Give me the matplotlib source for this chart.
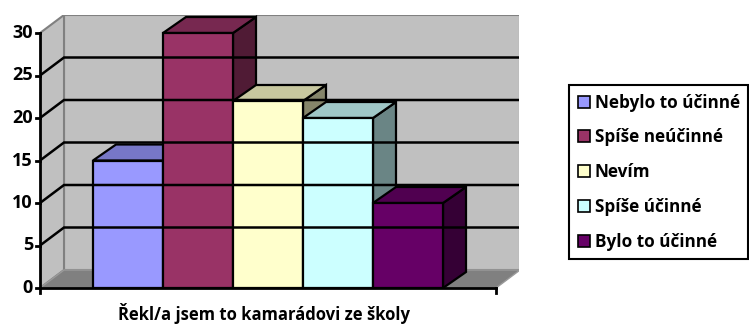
import matplotlib
matplotlib.use("Agg")
import matplotlib.pyplot as plt
from matplotlib.colors import to_rgb
from matplotlib.patches import Patch, Polygon

answers = ["Nebylo to účinné", "Spíše neúčinné", "Nevím", "Spíše účinné", "Bylo to účinné"]
counts = [15, 30, 22, 20, 10]
colors = ["#9999FF", "#993366", "#FFFFCC", "#CCFFFF", "#660066"]
y_ticks = [0, 5, 10, 15, 20, 25, 30]
x_label = "Řekl/a jsem to kamarádovi ze školy"

plt.rcParams["font.family"] = ["Open Sans", "DejaVu Sans"]
plt.rcParams["font.weight"] = "bold"

W, H = 749, 324
PX_X, PX_Y = 70.0, 8.5          # pixels per category / per unit of value
fig = plt.figure(figsize=(W / 100, H / 100), dpi=100)
ax = fig.add_axes([40 / W, (H - 288) / H, 479 / W, 273 / H])

margin = 53 / PX_X
wall_dx, wall_dy = 24 / PX_X, 18 / PX_Y
bar_dx, bar_dy = 23 / PX_X, 16 / PX_Y
x0, x1 = -margin, len(counts) + margin
ymax = y_ticks[-1]
ax.set_xlim(x0, x0 + 479 / PX_X)
ax.set_ylim(0, 273 / PX_Y)
ax.axis("off")


def shade(color, k):
    return tuple(c * k for c in to_rgb(color))


# walls and floor
ax.add_patch(Polygon([(x0 + wall_dx, wall_dy), (x1 + wall_dx, wall_dy),
                      (x1 + wall_dx, ymax + wall_dy), (x0 + wall_dx, ymax + wall_dy)],
                     fc="#C0C0C0", ec="#808080", lw=1.5))
ax.add_patch(Polygon([(x0, 0), (x0 + wall_dx, wall_dy), (x0 + wall_dx, ymax + wall_dy), (x0, ymax)],
                     fc="#C0C0C0", ec="#808080", lw=1.5))
ax.add_patch(Polygon([(x0, 0), (x1, 0), (x1 + wall_dx, wall_dy), (x0 + wall_dx, wall_dy)],
                     fc="#808080", ec="#9a9a9a", lw=1))

# gridlines on side and back wall
for t in y_ticks[1:-1]:
    ax.plot([x0, x0 + wall_dx, x1 + wall_dx], [t, t + wall_dy, t + wall_dy],
            color="black", lw=1.8, solid_joinstyle="miter")

# 3D columns
for i, (value, color) in enumerate(zip(counts, colors)):
    side = [(i + 1, 0), (i + 1 + bar_dx, bar_dy), (i + 1 + bar_dx, value + bar_dy), (i + 1, value)]
    top = [(i, value), (i + 1, value), (i + 1 + bar_dx, value + bar_dy), (i + bar_dx, value + bar_dy)]
    front = [(i, 0), (i + 1, 0), (i + 1, value), (i, value)]
    ax.add_patch(Polygon(side, fc=shade(color, 0.52), ec="black", lw=1.6, joinstyle="miter"))
    ax.add_patch(Polygon(top, fc=shade(color, 0.78), ec="black", lw=1.6, joinstyle="miter"))
    ax.add_patch(Polygon(front, fc=color, ec="black", lw=1.6, joinstyle="miter"))

# axes lines, ticks and labels
ax.plot([x0, x0], [0, ymax], color="black", lw=2, clip_on=False)
ax.plot([x0, x1], [0, 0], color="black", lw=2, clip_on=False)
for xe in (x0, x1):
    ax.plot([xe, xe], [0, -5 / PX_Y], color="black", lw=2, clip_on=False)
for t in y_ticks:
    ax.plot([x0 - 4 / PX_X, x0], [t, t], color="black", lw=2, clip_on=False)
    ax.text(x0 - 7 / PX_X, t, str(t), ha="right", va="center", fontsize=13, fontweight="bold")

fig.text(264 / W, 1 - 313 / H, x_label, ha="center", va="center", fontsize=12, fontweight="bold")

handles = [Patch(fc=c, ec="black", lw=1.2) for c in colors]
leg = fig.legend(handles, answers, loc="upper left", bbox_to_anchor=(569 / W, 1 - 85 / H),
                 frameon=True, fancybox=False, edgecolor="black", framealpha=1, fontsize=12.3,
                 handlelength=0.7, handleheight=0.7, handletextpad=0.3,
                 labelspacing=0.98, borderpad=0.5, borderaxespad=0)
leg.get_frame().set_linewidth(1.5)

fig.savefig("out.png", dpi=100)
